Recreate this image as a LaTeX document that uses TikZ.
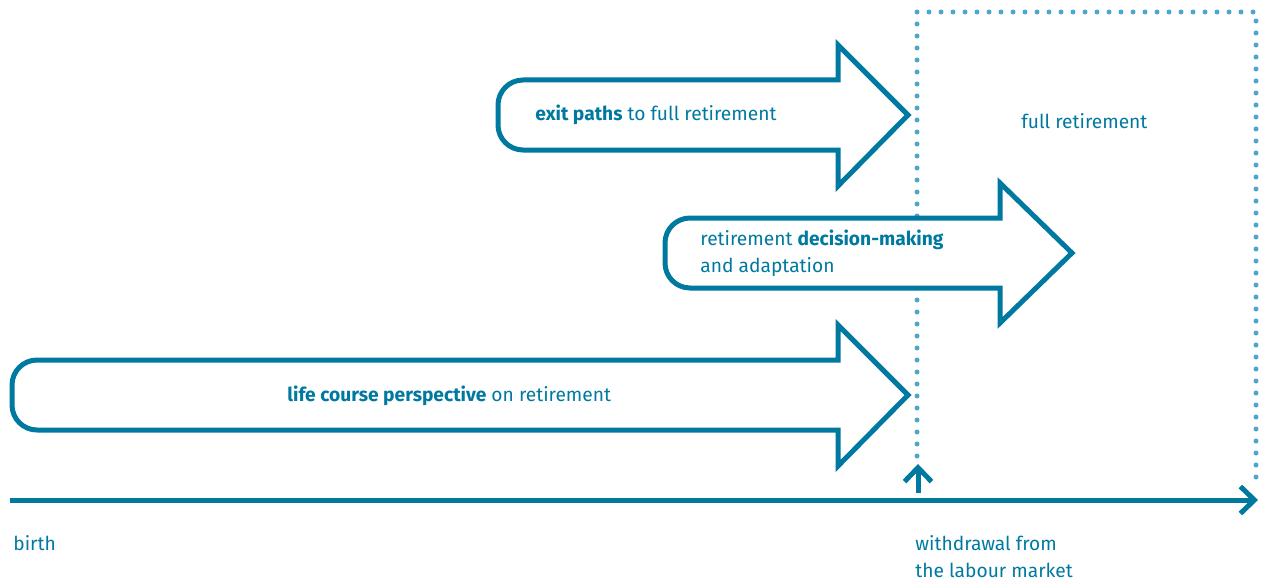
\documentclass[tikz,border=0pt]{standalone}
\usepackage{fontspec}
\setmainfont{Fira Sans}
\usetikzlibrary{arrows.meta}
\definecolor{petrol}{RGB}{0,121,160}
\definecolor{dotblue}{RGB}{78,166,202}

\begin{document}
\begin{tikzpicture}[
    x=0.5pt, y=-0.5pt, % 1 Einheit = 1 Pixel
    every node/.style={font=\fontsize{9.6}{13.5}\selectfont, text=petrol, inner sep=0pt}, % Schrift der Knoten
    bigarrow/.style={draw=petrol, fill=white, line width=2.5pt}, % Stil der grossen Pfeile
    axis/.style={draw=petrol, line width=2.5pt, -{Straight Barb[length=7pt, width=13.5pt]}}, % Stil der Zeitachse
    dotline/.style={draw=dotblue, line width=2.5pt, line cap=round, dash pattern=on 0pt off 6pt}, % Stil der gepunkteten Linie
    txt/.style={anchor=base west, align=left} % Stil der Texte
]
\useasboundingbox (0,0) rectangle (1268,583);

% gepunkteter Rahmen
\draw[dotline] (917,456) -- (917,12) -- (1256,12) -- (1256,487);

% Pfeile
\draw[bigarrow] (838,80) [rounded corners=12.5pt] -- (498,80) -- (498,150) [sharp corners] -- (838,150) -- (838,186) -- (908,115) -- (838,45) -- cycle;
\draw[bigarrow] (1000,218) [rounded corners=12.5pt] -- (665,218) -- (665,288) [sharp corners] -- (1000,288) -- (1000,323) -- (1072,253) -- (1000,183) -- cycle;
\draw[bigarrow] (838,360) [rounded corners=12.5pt] -- (12,360) -- (12,430) [sharp corners] -- (838,430) -- (838,466) -- (908,395) -- (838,325) -- cycle;

% Texte
\node[txt] (exitpaths) at (535,120) {\textbf{exit paths} to full retirement};
\node[txt] (fullret) at (1021,128) {full retirement};
\node[txt] (decision) at (700,272) {retirement \textbf{decision-making}\\and adaptation};
\node[txt] (lifecourse) at (287,401) {\textbf{life course perspective} on retirement};
\node[txt] (birth) at (13,550) {birth};
\node[txt] (withdrawal) at (915,577) {withdrawal from\\the labour market};

% Zeitachse
\coordinate (start) at (10,500);
\coordinate (end) at (1258,500);
\draw[axis] (start) -- (end);

% Austritt
\coordinate (exitfoot) at (918,493);
\coordinate (exittop) at (918,464);
\draw[axis] (exitfoot) -- (exittop);

\end{tikzpicture}
\end{document}
